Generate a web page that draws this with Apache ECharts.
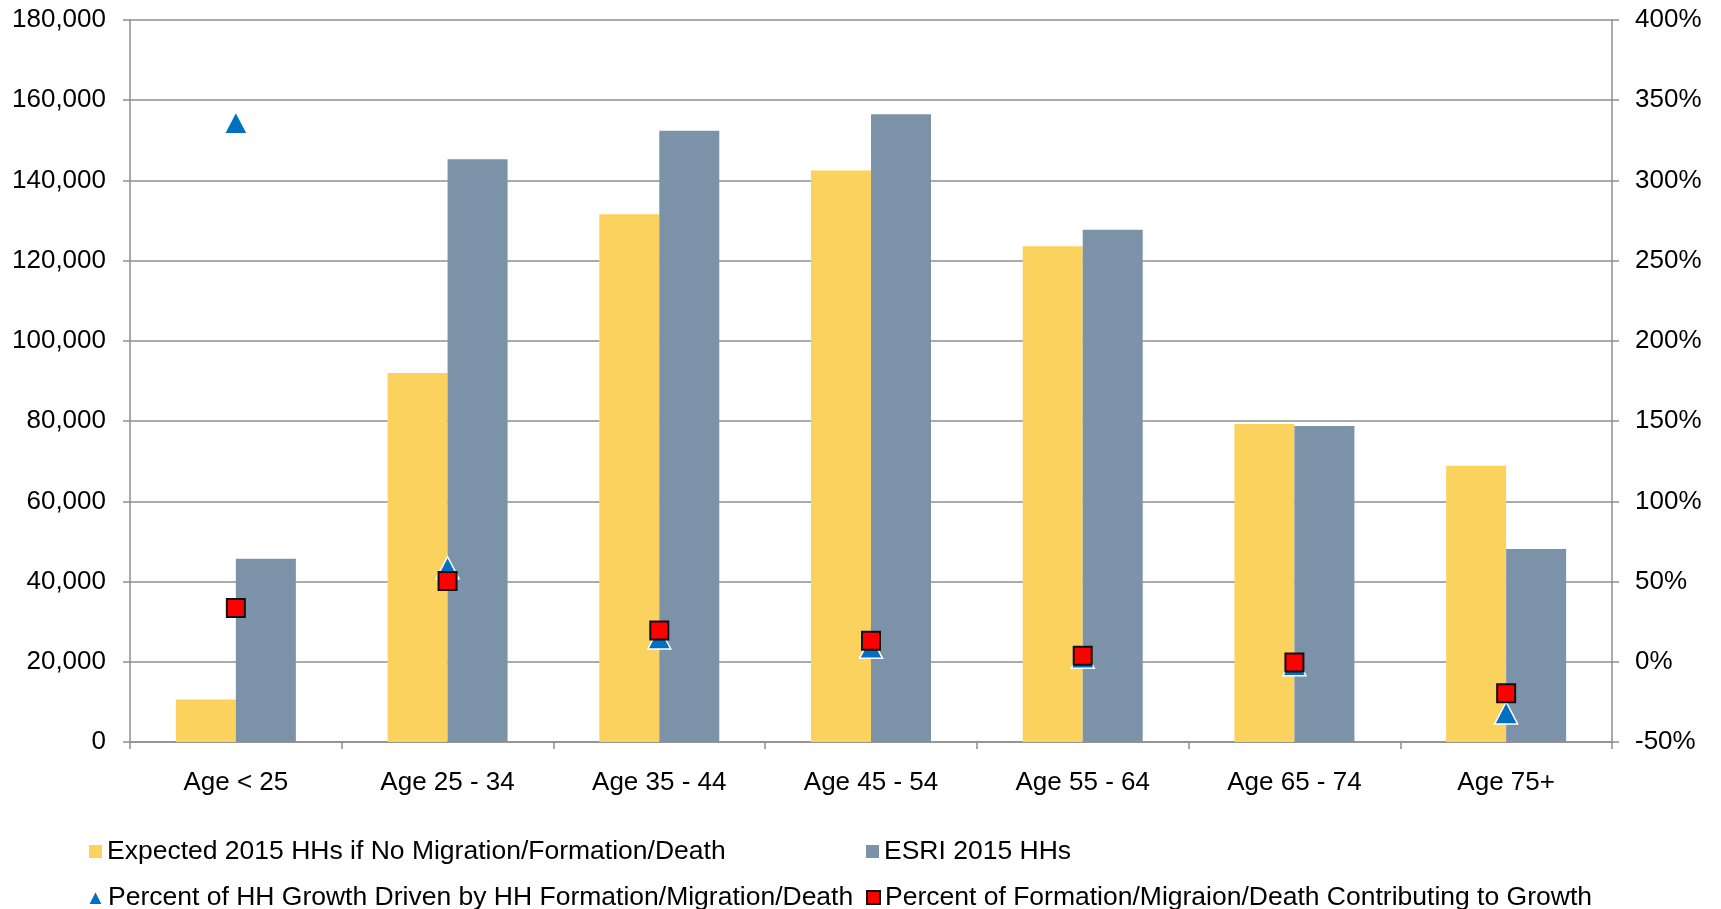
<!DOCTYPE html>
<html>
<head>
<meta charset="utf-8">
<script src="https://cdn.jsdelivr.net/npm/echarts@6/dist/echarts.min.js"></script>
<style>
  html, body { margin: 0; padding: 0; background: #ffffff; }
  #chart { width: 1721px; height: 909px; }
</style>
</head>
<body>
<div id="chart"></div>
<script>
// Age groups along the x axis
const categories = ['Age < 25', 'Age 25 - 34', 'Age 35 - 44', 'Age 45 - 54', 'Age 55 - 64', 'Age 65 - 74', 'Age 75+'];

// Households (left axis)
const expectedHHs = [10600, 92000, 131600, 142500, 123600, 79300, 68900];
const esriHHs = [45700, 145300, 152400, 156500, 127700, 78800, 48100];

// Percentages (right axis, in %)
const growthDrivenPct = [336, 58.6, 14.8, 9.0, 2.8, -1.8, -31.9];
const contributingPct = [33.5, 50.4, 19.5, 13.1, 3.8, -0.4, -19.6];

// Axis tick values
const leftTicks = [0, 20000, 40000, 60000, 80000, 100000, 120000, 140000, 160000, 180000];
const rightTicks = [-50, 0, 50, 100, 150, 200, 250, 300, 350, 400];

const seriesNames = [
  'Expected 2015 HHs if No Migration/Formation/Death',
  'ESRI 2015 HHs',
  'Percent of HH Growth Driven by HH Formation/Migration/Death',
  'Percent of Formation/Migraion/Death Contributing to Growth'
];

const FONT = '"Liberation Sans", Arial, sans-serif';
const AXIS_GRAY = '#8f8f8f';

const labelStyle = { color: '#000', fontFamily: FONT, fontSize: 26 };
const legendText = { color: '#000', fontFamily: FONT, fontSize: 26.5 };

function legendAt(name, left, top, icon, size) {
  return {
    data: [icon ? { name: name, icon: icon } : name],
    left: left, top: top, padding: 0,
    itemWidth: size || 13, itemHeight: size || 13, itemGap: 0,
    textStyle: legendText,
    selectedMode: false
  };
}

const chart = echarts.init(document.getElementById('chart'), null, { renderer: 'canvas' });

chart.setOption({
  animation: false,
  backgroundColor: '#ffffff',
  grid: { left: 130, right: 109, top: 20, bottom: 167, containLabel: false },
  legend: [
    legendAt(seriesNames[0], 89, 838, 'rect'),
    legendAt(seriesNames[1], 866, 838, 'rect'),
    legendAt(seriesNames[2], 87, 884, null, 15),
    legendAt(seriesNames[3], 866, 884)
  ],
  xAxis: {
    type: 'category',
    data: categories,
    axisLine: { lineStyle: { color: AXIS_GRAY, width: 1.5 } },
    axisTick: { show: true, alignWithLabel: false, length: 7, lineStyle: { color: AXIS_GRAY, width: 1.5 } },
    axisLabel: Object.assign({ margin: 28 }, labelStyle)
  },
  yAxis: [
    {
      type: 'value',
      min: leftTicks[0],
      max: leftTicks[leftTicks.length - 1],
      interval: leftTicks[1] - leftTicks[0],
      axisLine: { show: true, lineStyle: { color: AXIS_GRAY, width: 1.5 } },
      axisTick: { show: true, length: 7, lineStyle: { color: AXIS_GRAY, width: 1.5 } },
      splitLine: { show: true, lineStyle: { color: AXIS_GRAY, width: 1.5 } },
      axisLabel: Object.assign({
        margin: 24,
        formatter: function (v) { return v.toLocaleString('en-US'); }
      }, labelStyle)
    },
    {
      type: 'value',
      position: 'right',
      min: rightTicks[0],
      max: rightTicks[rightTicks.length - 1],
      interval: rightTicks[1] - rightTicks[0],
      axisLine: { show: true, lineStyle: { color: AXIS_GRAY, width: 1.5 } },
      axisTick: { show: true, length: 7, lineStyle: { color: AXIS_GRAY, width: 1.5 } },
      splitLine: { show: false },
      axisLabel: Object.assign({
        margin: 23,
        formatter: function (v) { return v + '%'; }
      }, labelStyle)
    }
  ],
  series: [
    {
      name: seriesNames[0],
      type: 'bar',
      data: expectedHHs,
      barWidth: 60,
      barGap: '0%',
      itemStyle: { color: '#FCD25E' }
    },
    {
      name: seriesNames[1],
      type: 'bar',
      data: esriHHs,
      barWidth: 60,
      barGap: '0%',
      itemStyle: { color: '#7C92A8' }
    },
    {
      name: seriesNames[2],
      type: 'scatter',
      yAxisIndex: 1,
      data: growthDrivenPct,
      symbol: 'triangle',
      symbolSize: [23, 22],
      itemStyle: { color: '#0070C0', borderColor: '#ffffff', borderWidth: 1.5, opacity: 1 },
      z: 3
    },
    {
      name: seriesNames[3],
      type: 'scatter',
      yAxisIndex: 1,
      data: contributingPct,
      symbol: 'rect',
      symbolSize: 18,
      itemStyle: { color: '#FF0000', borderColor: '#111111', borderWidth: 2, opacity: 1 },
      z: 4
    }
  ]
});
</script>
</body>
</html>
